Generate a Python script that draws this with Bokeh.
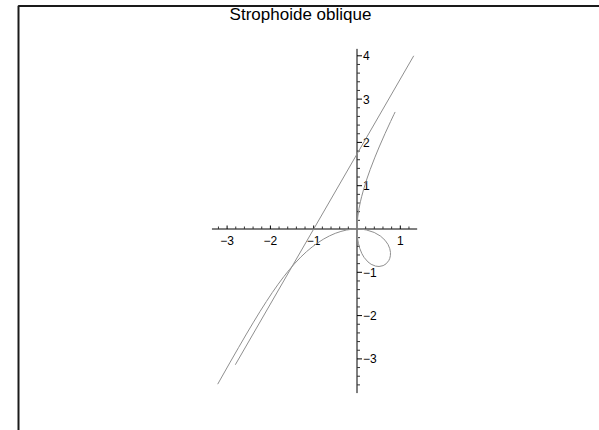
from bokeh.plotting import figure
from bokeh.models import Range1d
from bokeh.core.properties import value
from bokeh.embed import file_html
from bokeh.resources import INLINE

# Oblique strophoid, traced from the lower-left branch through the node,
# around the loop, back through the node and up the upper branch.
curve_x = [-3.217, -3.150, -2.929, -2.732, -2.554, -2.390, -2.238, -2.093,
           -1.955, -1.821, -1.689, -1.559, -1.429, -1.299, -1.168, -1.035,
           -0.902, -0.769, -0.635, -0.502, -0.371, -0.243, -0.119, 0.0,
           0.112, 0.216, 0.398, 0.542, 0.647, 0.717, 0.757, 0.773, 0.771,
           0.756, 0.732, 0.671, 0.604, 0.509, 0.429, 0.326, 0.254, 0.164,
           0.114, 0.0641, 0.0338, 0.0159, 0.0060, 0.0015, 0.0,
           0.0017, 0.0069, 0.0200, 0.0479, 0.0785, 0.1063, 0.152, 0.235,
           0.306, 0.415, 0.512, 0.649, 0.776, 0.854, 0.8805]
curve_y = [-3.584, -3.465, -3.075, -2.732, -2.426, -2.151, -1.902, -1.675,
           -1.466, -1.275, -1.098, -0.935, -0.786, -0.649, -0.525, -0.414,
           -0.316, -0.231, -0.159, -0.100, -0.056, -0.024, -0.006, 0.0,
           -0.006, -0.022, -0.080, -0.163, -0.259, -0.358, -0.454, -0.541,
           -0.616, -0.680, -0.732, -0.805, -0.846, -0.866, -0.857, -0.815,
           -0.761, -0.657, -0.571, -0.449, -0.338, -0.238, -0.149, -0.077, 0.0,
           0.083, 0.172, 0.300, 0.479, 0.628, 0.744, 0.912, 1.177,
           1.377, 1.660, 1.894, 2.207, 2.483, 2.648, 2.703]

# Oblique asymptote y = sqrt(3) (x + 1)
asym_x = [-2.81, 1.31]
asym_y = [-3.135, 4.00]

# Axes extent and ticks
x_axis_span = [-3.35, 1.39]
y_axis_span = [-3.79, 4.16]
x_ticks = [-3, -2, -1, 1]
x_tick_labels = ["\u22123", "\u22122", "\u22121", "1"]
y_ticks = [4, 3, 2, 1, -1, -2, -3]
y_tick_labels = ["4", "3", "2", "1", "\u22121", "\u22122", "\u22123"]

title_text = "Strophoide oblique"

# ---- layout -------------------------------------------------------------
W, H = 599, 430
UNIT = 43.3                 # pixels per unit, same on both axes
OX, OY = 356.5, 228.5       # pixel position of the origin


def dx(px):
    return (px - OX) / UNIT


def dy(py):
    return (OY - py) / UNIT


p = figure(width=W, height=H,
           x_range=Range1d(dx(0), dx(W)), y_range=Range1d(dy(H), dy(0)),
           output_backend="svg", toolbar_location=None, min_border=0,
           x_axis_type=None, y_axis_type=None)
p.outline_line_color = None
p.background_fill_color = "white"
p.border_fill_color = "white"

# page frame (left and top edges)
p.line(x=[dx(18), dx(18), dx(W + 10)], y=[dy(H + 10), dy(5.5), dy(5.5)],
       line_width=2, line_color="#1a1a1a")

# axes through the origin
p.line(x=x_axis_span, y=[0, 0], line_color="black", line_width=1)
p.line(x=[0, 0], y=y_axis_span, line_color="black", line_width=1)

# minor and major ticks
x_minor = [round(-3.2 + 0.2 * i, 1) for i in range(23)]
x_minor = [v for v in x_minor if abs(v - round(v)) > 1e-6]
y_minor = [round(-3.6 + 0.2 * i, 1) for i in range(39)]
y_minor = [v for v in y_minor if abs(v - round(v)) > 1e-6]

p.segment(x0=x_minor, y0=[0] * len(x_minor), x1=x_minor,
          y1=[2.5 / UNIT] * len(x_minor), line_color="#333333", line_width=1)
p.segment(x0=x_ticks, y0=[0] * len(x_ticks), x1=x_ticks,
          y1=[3.5 / UNIT] * len(x_ticks), line_color="black", line_width=1)
p.segment(x0=[0] * len(y_minor), y0=y_minor, x1=[3 / UNIT] * len(y_minor),
          y1=y_minor, line_color="#333333", line_width=1)
p.segment(x0=[0] * len(y_ticks), y0=y_ticks, x1=[5 / UNIT] * len(y_ticks),
          y1=y_ticks, line_color="black", line_width=1)

# tick labels
p.text(x=x_ticks, y=[-11 / UNIT] * len(x_ticks), text=x_tick_labels,
       text_font=value("Liberation Sans"), text_font_size="12px",
       text_align="center", text_baseline="middle", text_color="black")
p.text(x=[6 / UNIT] * len(y_ticks), y=y_ticks, text=y_tick_labels,
       text_font=value("Liberation Sans"), text_font_size="12px",
       text_align="left", text_baseline="middle", text_color="black")

# curve and asymptote
p.line(x=asym_x, y=asym_y, line_color="#8f8f8f", line_width=1)
p.line(x=curve_x, y=curve_y, line_color="#8f8f8f", line_width=1)

# title
p.text(x=[dx(300)], y=[dy(14)], text=[title_text],
       text_font=value("Liberation Sans"), text_font_size="17px",
       text_align="center", text_baseline="middle", text_color="black")

open("out.html", "w").write(file_html(p, INLINE))
